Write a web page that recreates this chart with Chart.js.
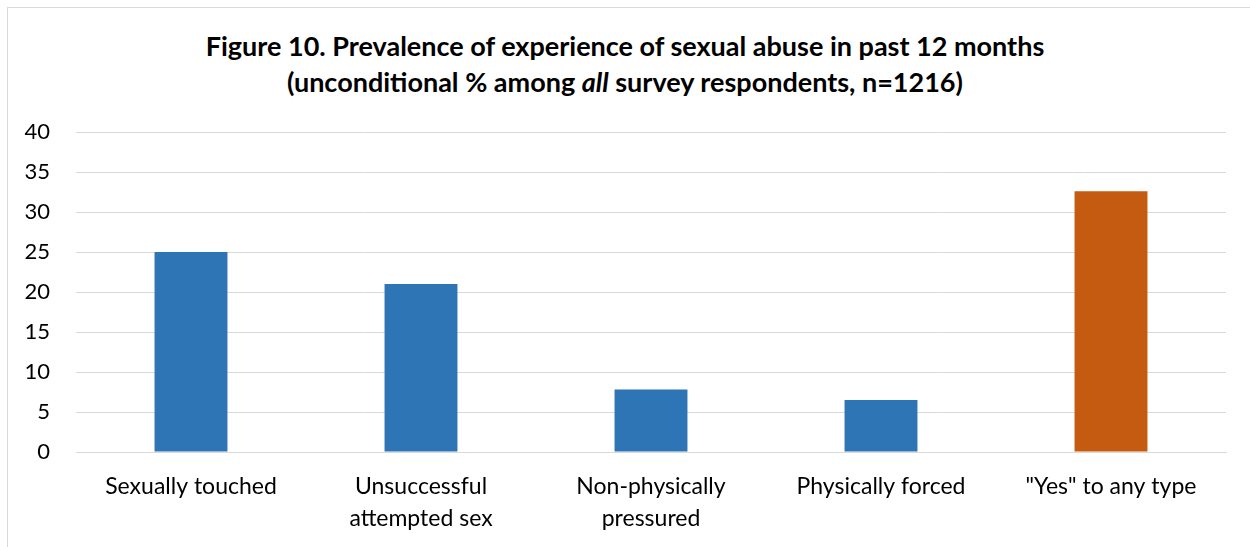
<!DOCTYPE html>
<html>
<head>
<meta charset="utf-8">
<script src="https://cdn.jsdelivr.net/npm/chart.js@4"></script>
<style>
  body { margin: 0; background: #fff; }
  #wrap { position: relative; width: 1250px; height: 547px; overflow: hidden; }
  #frame { position: absolute; left: 7px; top: 7px; width: 1300px; height: 600px; border: 1px solid #d9d9d9; }
  #title {
    position: absolute; left: 0; top: 28px; width: 1250px; text-align: center;
    font-family: Lato, sans-serif; font-weight: bold; font-size: 27px; line-height: 36px; color: #000;
  }
  canvas { position: absolute; left: 0; top: 0; }
</style>
</head>
<body>
<div id="wrap">
  <div id="frame"></div>
  <div id="title">Figure 10. Prevalence of experience of sexual abuse in past 12 months<br>(unconditional % among <i>all</i> survey respondents, n=1216)</div>
  <canvas id="chart" width="1250" height="547"></canvas>
</div>
<script>
// data
const categories = [
  'Sexually touched',
  ['Unsuccessful', 'attempted sex'],
  ['Non-physically', 'pressured'],
  'Physically forced',
  '"Yes" to any type'
];
const prevalence = [25.0, 21.0, 7.8, 6.5, 32.6];
const barColors = ['#2e75b6', '#2e75b6', '#2e75b6', '#2e75b6', '#c55a11'];
const yTicks = [0, 5, 10, 15, 20, 25, 30, 35, 40];

const ctx = document.getElementById('chart').getContext('2d');
new Chart(ctx, {
  type: 'bar',
  data: {
    labels: categories,
    datasets: [{
      data: prevalence,
      backgroundColor: barColors,
      barPercentage: 0.634,
      categoryPercentage: 0.5
    }]
  },
  options: {
    responsive: false,
    animation: false,
    layout: { padding: { top: 132, right: 24, left: 0, bottom: 0 } },
    plugins: { legend: { display: false }, tooltip: { enabled: false } },
    scales: {
      x: {
        grid: { display: false, drawTicks: false },
        border: { color: '#d9d9d9', width: 1 },
        ticks: { color: '#000', font: { family: 'Lato', size: 23, lineHeight: 1.4 }, padding: 18, maxRotation: 0, autoSkip: false },
        afterFit: s => { s.height = 95; }
      },
      y: {
        min: 0, max: 40,
        afterBuildTicks: s => { s.ticks = yTicks.map(v => ({ value: v })); },
        grid: { color: '#d9d9d9', drawTicks: false },
        border: { display: false },
        ticks: { color: '#000', font: { family: 'Lato', size: 22 }, padding: 26 },
        afterFit: s => { s.width = 76; }
      }
    }
  }
});
</script>
</body>
</html>
